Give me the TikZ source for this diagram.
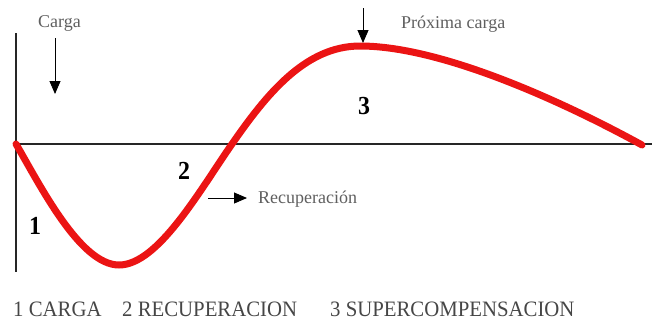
\documentclass[tikz,border=0pt]{standalone}
\usepackage{fontspec}
\setmainfont{Liberation Serif}
\usetikzlibrary{arrows.meta}
\definecolor{curvered}{RGB}{235,20,20}
\definecolor{labgray}{RGB}{95,95,95}
\definecolor{leggray}{RGB}{70,70,70}
\begin{document}
\begin{tikzpicture}[x=1pt,y=-1pt,
  axis/.style={line width=2.8pt,black!85},
  curve/.style={line width=7pt,curvered,line cap=round},
  mark arrow/.style={-{Triangle[length=13pt,width=11pt]},line width=0.9pt},
  graylabel/.style={font=\fontsize{18}{21}\selectfont,text=labgray,inner sep=0pt,anchor=base west},
  numlabel/.style={font=\fontsize{26}{30}\selectfont\bfseries,inner sep=0pt,xscale=0.92},
  legend/.style={font=\fontsize{22}{26}\selectfont,text=leggray,inner sep=0pt,anchor=base west,xscale=0.945}]
\useasboundingbox (0,0) rectangle (655,322);
% axes
\coordinate (o) at (16,144);
\coordinate (ytop) at (16,33);
\coordinate (ybot) at (16,272);
\coordinate (xend) at (652,144);
\draw[axis] (ytop) -- (ybot);
\draw[axis] (o) -- (xend);
% curve
\coordinate (min) at (119,265);
\coordinate (cross) at (232,144);
\coordinate (peak) at (360,46);
\coordinate (end) at (642,145);
\draw[curve] (o) .. controls (40,185) and (80,265) .. (min)
  .. controls (158,265) and (200,190) .. (cross)
  .. controls (266,95) and (305,46) .. (peak)
  .. controls (440,46) and (560,100) .. (end);
% labels
\node[graylabel] (carga) at (38,27) {Carga};
\coordinate (ca1) at (55,38);
\coordinate (ca2) at (55,94);
\draw[mark arrow] (ca1) -- (ca2);
\node[graylabel] (prox) at (401,28) {Próxima carga};
\coordinate (pa1) at (363,8);
\coordinate (pa2) at (363,43);
\draw[mark arrow] (pa1) -- (pa2);
\node[graylabel] (recup) at (258,203) {Recuperación};
\coordinate (ra1) at (208,198);
\coordinate (ra2) at (247,198);
\draw[mark arrow] (ra1) -- (ra2);
\node[numlabel] (n1) at (35,226) {1};
\node[numlabel] (n2) at (184,171) {2};
\node[numlabel] (n3) at (364,106) {3};
% legend
\node[legend] (l1) at (13,316) {1 CARGA};
\node[legend] (l2) at (122,316) {2 RECUPERACION};
\node[legend] (l3) at (330,316) {3 SUPERCOMPENSACION};
\end{tikzpicture}
\end{document}
